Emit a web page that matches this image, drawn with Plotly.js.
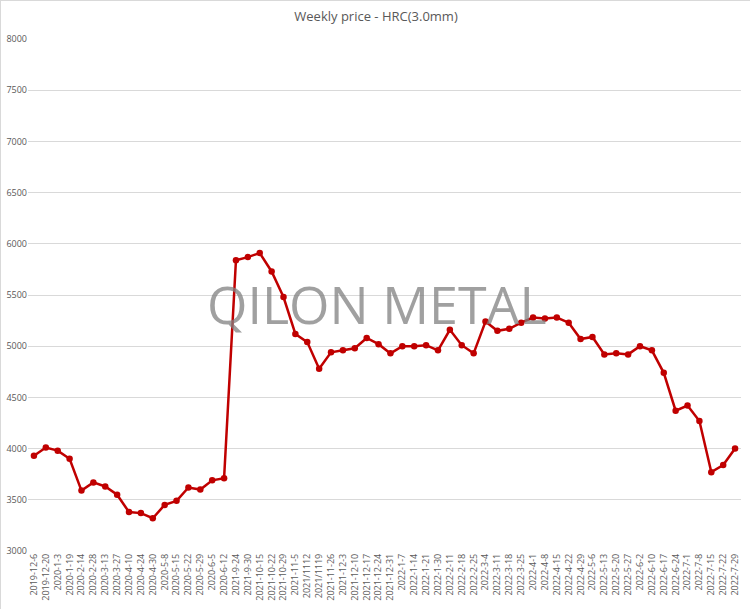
<!DOCTYPE html>
<html>
<head>
<meta charset="utf-8">
<script src="https://cdn.plot.ly/plotly-3.0.1.min.js"></script>
<style>
html,body{margin:0;padding:0;background:#fff;}
#chart{width:750px;height:609px;box-sizing:border-box;border:1px solid #d9d9d9;}
</style>
</head>
<body>
<div id="chart"></div>
<script>
const dates = ["2019-12-6","2019-12-20","2020-1-3","2020-1-19","2020-2-14","2020-2-28","2020-3-13","2020-3-27","2020-4-10","2020-4-24","2020-4-30","2020-5-8","2020-5-15","2020-5-22","2020-5-29","2020-6-5","2020-6-12","2021-9-24","2021-9-30","2021-10-15","2021-10-22","2021-10-29","2021-11-5","2021/1112","2021/1119","2021-11-26","2021-12-3","2021-12-10","2021-12-17","2021-12-24","2021-12-31","2022-1-7","2022-1-14","2022-1-21","2022-1-30","2022-2-11","2022-2-18","2022-2-25","2022-3-4","2022-3-11","2022-3-18","2022-3-25","2022-4-1","2022-4-8","2022-4-15","2022-4-22","2022-4-29","2022-5-6","2022-5-13","2022-5-20","2022-5-27","2022-6-2","2022-6-10","2022-6-17","2022-6-24","2022-7-1","2022-7-8","2022-7-15","2022-7-22","2022-7-29"];
const prices = [3930,4010,3980,3900,3590,3670,3630,3550,3380,3370,3320,3450,3490,3620,3600,3690,3710,5840,5870,5910,5730,5480,5120,5040,4780,4940,4960,4980,5080,5020,4930,5000,5000,5010,4960,5160,5010,4930,5240,5150,5170,5230,5280,5270,5280,5230,5070,5090,4920,4930,4920,5000,4960,4740,4370,4420,4270,3770,3840,4000];
const chartTitle = "Weekly price - HRC(3.0mm)";
const watermark = "QILON METAL";

const trace = {
  x: dates,
  y: prices,
  type: "scatter",
  mode: "lines+markers",
  line: {color: "#C00000", width: 2.5},
  marker: {color: "#C00000", size: 6.5},
  hoverinfo: "x+y"
};

const layout = {
  width: 750, height: 609,
  margin: {l: 27, r: 10, t: 38, b: 59},
  paper_bgcolor: "#ffffff",
  plot_bgcolor: "#ffffff",
  showlegend: false,
  title: {text: chartTitle, x: 0.5, xanchor: "center", y: 0.975, yanchor: "middle",
          font: {family: "Open Sans, sans-serif", size: 13, color: "#595959"}},
  xaxis: {
    type: "category",
    tickangle: -90,
    tickfont: {family: "Open Sans, sans-serif", size: 9, color: "#595959"},
    showgrid: false,
    showline: false,
    ticks: "",
    zeroline: false,
    range: [-0.5, dates.length - 0.5],
    automargin: false
  },
  yaxis: {
    range: [3000, 8000],
    dtick: 500,
    tickfont: {family: "Open Sans, sans-serif", size: 9, color: "#595959"},
    gridcolor: "#d9d9d9",
    gridwidth: 1,
    zeroline: false,
    showline: false,
    ticks: "",
    automargin: false
  },
  annotations: [{
    text: watermark,
    xref: "paper", yref: "paper",
    x: 0.49, y: 0.483,
    xanchor: "center", yanchor: "middle",
    showarrow: false,
    font: {family: "Open Sans, sans-serif", size: 52, color: "rgba(128,128,128,0.75)"}
  }]
};

Plotly.newPlot("chart", [trace], layout, {displayModeBar: false, staticPlot: true});
</script>
</body>
</html>
